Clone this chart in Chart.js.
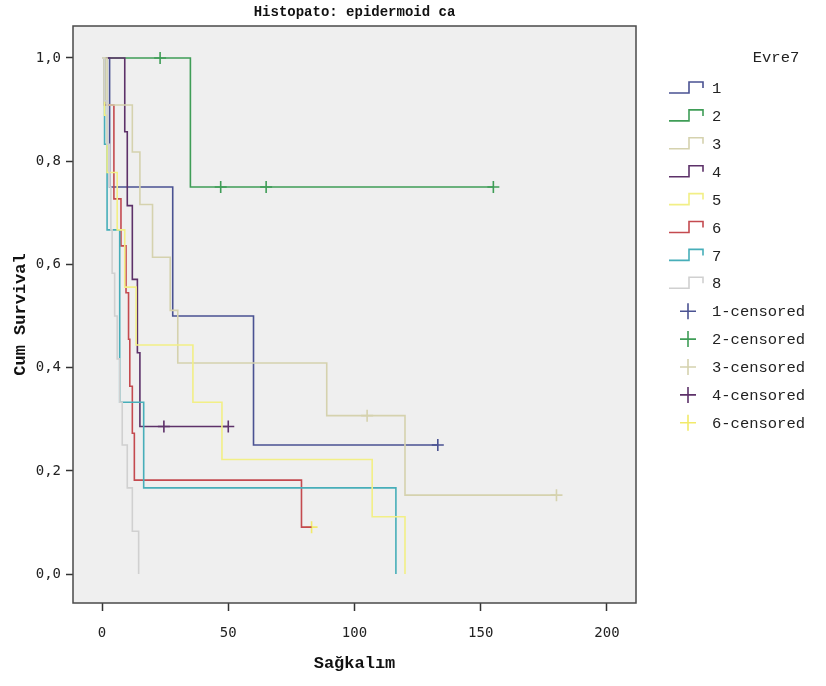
<!DOCTYPE html>
<html>
<head>
<meta charset="utf-8">
<script src="https://cdn.jsdelivr.net/npm/chart.js@4.4.1/dist/chart.umd.min.js"></script>
<style>
  html, body { margin: 0; padding: 0; background: #fff; }
  #wrap { width: 826px; height: 686px; }
</style>
</head>
<body>
<div id="wrap"><canvas id="kmChart" width="826" height="686"></canvas></div>
<script>
// Kaplan-Meier survival steps per stage (Evre7): time (months) and cumulative survival
var groups = ['1', '2', '3', '4', '5', '6', '7', '8'];
var colors = ['#4a5292', '#3f9d57', '#d5d2ae', '#5d3169', '#f2ef86', '#c44a4f', '#47aeb9', '#d0d0d0'];

var time1 = [0, 3, 28, 60, 133];
var surv1 = [1, 0.75, 0.5, 0.25, 0.25];
var time2 = [0, 35, 155];
var surv2 = [1, 0.75, 0.75];
var time3 = [0, 2, 12, 15, 20, 27, 30, 89, 120, 180];
var surv3 = [1, 0.909, 0.818, 0.716, 0.614, 0.511, 0.409, 0.307, 0.153, 0.153];
var time4 = [0, 9, 10, 12, 14, 15, 50];
var surv4 = [1, 0.857, 0.714, 0.571, 0.429, 0.286, 0.286];
var time5 = [0, 1, 2, 6, 9, 13.5, 36, 47.5, 107, 120];
var surv5 = [1, 0.889, 0.778, 0.667, 0.556, 0.444, 0.333, 0.222, 0.111, 0];
var time6 = [0, 1, 4.7, 7.5, 9.5, 10.5, 11, 12, 12.8, 79, 83];
var surv6 = [1, 0.909, 0.727, 0.636, 0.545, 0.455, 0.364, 0.273, 0.182, 0.091, 0.091];
var time7 = [0, 1, 2, 7, 16.5, 116.4];
var surv7 = [1, 0.833, 0.667, 0.333, 0.167, 0];
var time8 = [0, 1, 2, 3, 3.5, 4, 5, 6, 7, 8, 10, 12, 14.5];
var surv8 = [1, 0.917, 0.833, 0.75, 0.667, 0.583, 0.5, 0.417, 0.333, 0.25, 0.167, 0.083, 0];

// censored observations
var censorGroups = ['1', '2', '3', '4', '6'];
var censorColors = ['#4a5292', '#3f9d57', '#d5d2ae', '#5d3169', '#f2ea6a'];
var censTime1 = [133];
var censSurv1 = [0.25];
var censTime2 = [23, 47, 65, 155];
var censSurv2 = [1, 0.75, 0.75, 0.75];
var censTime3 = [105, 180];
var censSurv3 = [0.307, 0.153];
var censTime4 = [24.5, 50];
var censSurv4 = [0.286, 0.286];
var censTime6 = [83];
var censSurv6 = [0.091];

var xTicks = [0, 50, 100, 150, 200];
var yTicks = [0, 0.2, 0.4, 0.6, 0.8, 1.0];

var stepTimes = [time1, time2, time3, time4, time5, time6, time7, time8];
var stepSurv = [surv1, surv2, surv3, surv4, surv5, surv6, surv7, surv8];
var censTimes = [censTime1, censTime2, censTime3, censTime4, censTime6];
var censSurv = [censSurv1, censSurv2, censSurv3, censSurv4, censSurv6];

function pts(xs, ys) {
  return xs.map(function (x, i) { return { x: x, y: ys[i] }; });
}

var datasets = [];
// draw the grey / pale curves first so the darker ones sit on top
[7, 4, 2, 6, 5, 3, 0, 1].forEach(function (i) {
  datasets.push({
    label: groups[i],
    data: pts(stepTimes[i], stepSurv[i]),
    showLine: true,
    stepped: 'before',
    borderColor: colors[i],
    borderWidth: 1.6,
    pointRadius: 0,
    fill: false
  });
});
censorGroups.forEach(function (g, i) {
  datasets.push({
    label: g + '-censored',
    data: pts(censTimes[i], censSurv[i]),
    showLine: false,
    pointStyle: 'cross',
    pointRadius: 6,
    pointBorderWidth: 1.6,
    borderColor: censorColors[i],
    backgroundColor: censorColors[i]
  });
});

var monoFont = "'Liberation Mono', 'Courier New', monospace";

var frame = {
  id: 'frame',
  beforeDraw: function (chart) {
    var c = chart.ctx, a = chart.chartArea;
    c.save();
    c.fillStyle = '#ffffff';
    c.fillRect(0, 0, chart.width, chart.height);
    c.fillStyle = '#efefef';
    c.fillRect(a.left, a.top, a.right - a.left, a.bottom - a.top);
    c.restore();
  },
  afterDraw: function (chart) {
    var c = chart.ctx, a = chart.chartArea;
    c.save();
    c.strokeStyle = '#4a4a4a';
    c.lineWidth = 1.5;
    c.strokeRect(a.left, a.top, a.right - a.left, a.bottom - a.top);

    // title over the plot area
    c.fillStyle = '#111';
    c.font = 'bold 14px ' + monoFont;
    c.textAlign = 'center';
    c.textBaseline = 'middle';
    c.fillText('Histopato: epidermoid ca', (a.left + a.right) / 2, 12);

    // legend
    c.font = '15.5px ' + monoFont;
    c.fillStyle = '#222';
    c.fillText('Evre7', 776, 58);
    c.textAlign = 'left';
    var y0 = 88, dy = 27.9;
    groups.forEach(function (g, i) {
      var y = y0 + i * dy;
      c.strokeStyle = colors[i];
      c.lineWidth = 1.6;
      c.beginPath();
      c.moveTo(669, y + 5);
      c.lineTo(689, y + 5);
      c.lineTo(689, y - 6);
      c.lineTo(703, y - 6);
      c.lineTo(703, y);
      c.stroke();
      c.fillStyle = '#222';
      c.fillText(g, 712, y + 1);
    });
    censorGroups.forEach(function (g, i) {
      var y = y0 + (groups.length + i) * dy;
      c.strokeStyle = censorColors[i];
      c.lineWidth = 1.6;
      c.beginPath();
      c.moveTo(680, y);
      c.lineTo(696, y);
      c.moveTo(688, y - 8);
      c.lineTo(688, y + 8);
      c.stroke();
      c.fillStyle = '#222';
      c.fillText(g + '-censored', 712, y + 1);
    });
    c.restore();
  }
};

var ctx = document.getElementById('kmChart').getContext('2d');
var kmChart = new Chart(ctx, {
  type: 'scatter',
  data: { datasets: datasets },
  options: {
    responsive: false,
    animation: false,
    events: [],
    layout: { padding: { top: 26, right: 190, left: 0, bottom: 0 } },
    plugins: {
      legend: { display: false },
      tooltip: { enabled: false }
    },
    scales: {
      x: {
        type: 'linear',
        min: -11.5,
        max: 211.5,
        afterBuildTicks: function (scale) {
          scale.ticks = xTicks.map(function (v) { return { value: v }; });
        },
        afterFit: function (scale) { scale.height = 83; },
        ticks: {
          color: '#222',
          padding: 14,
          font: { family: "'DejaVu Sans Mono', monospace", size: 14 }
        },
        grid: { drawOnChartArea: false, drawTicks: true, tickLength: 8, tickColor: '#333', tickWidth: 1.5 },
        border: { display: false },
        title: {
          display: true,
          text: 'Sağkalım',
          color: '#111',
          font: { family: monoFont, size: 17, weight: 'bold' },
          padding: { top: 0, bottom: 12 }
        }
      },
      y: {
        min: -0.056,
        max: 1.062,
        afterBuildTicks: function (scale) {
          scale.ticks = yTicks.map(function (v) { return { value: v }; });
        },
        afterFit: function (scale) { scale.width = 73; },
        ticks: {
          color: '#222',
          padding: 5,
          font: { family: "'DejaVu Sans Mono', monospace", size: 14 },
          callback: function (v) { return v.toFixed(1).replace('.', ','); }
        },
        grid: { drawOnChartArea: false, drawTicks: true, tickLength: 7, tickColor: '#333', tickWidth: 1.5 },
        border: { display: false },
        title: {
          display: true,
          text: 'Cum Survival',
          color: '#111',
          font: { family: monoFont, size: 17, weight: 'bold' },
          padding: { top: 11, bottom: 0 }
        }
      }
    }
  },
  plugins: [frame]
});
</script>
</body>
</html>
